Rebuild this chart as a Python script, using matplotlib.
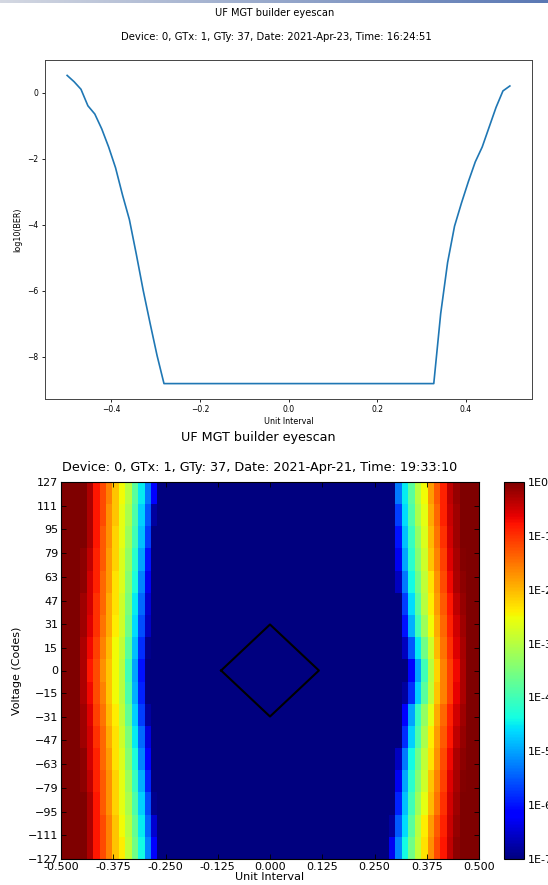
import numpy as np
import matplotlib
matplotlib.use("Agg")
import matplotlib.pyplot as plt
from matplotlib.colors import LogNorm, LinearSegmentedColormap

# ---- top chart: bathtub curve (log10 BER vs unit interval)
ui_points = [-0.5, -0.484375, -0.46875, -0.453125, -0.4375, -0.421875, -0.40625,
             -0.390625, -0.375, -0.359375, -0.34375, -0.328125, -0.3125, -0.296875,
             -0.28125, 0.328125, 0.34375, 0.359375, 0.375, 0.390625, 0.40625,
             0.421875, 0.4375, 0.453125, 0.46875, 0.484375, 0.5]
log_ber = [0.52, 0.33, 0.10, -0.40, -0.65, -1.10, -1.65,
           -2.28, -3.10, -3.85, -4.90, -6.00, -7.00, -7.97,
           -8.82, -8.82, -6.70, -5.15, -4.05, -3.35, -2.70,
           -2.10, -1.65, -1.05, -0.45, 0.05, 0.20]

# ---- bottom chart: 2D eye scan, log10 BER per voltage row
voltage_rows = [127, 111, 95, 79, 63, 47, 31, 15, 0, -15, -31, -47, -63, -79, -95, -111, -127]
n_cols = 65
# columns 3..15 (left edge of the eye)
eye_left = [
    [0.0, -0.3, -0.8, -1.2, -1.6, -2.1, -2.5, -3.0, -3.8, -4.5, -5.3, -6.1, -7.0],
    [0.0, -0.3, -0.8, -1.2, -1.7, -2.1, -2.6, -3.1, -3.9, -4.7, -5.5, -6.8, -7.0],
    [0.0, -0.3, -0.8, -1.3, -1.7, -2.2, -2.6, -3.2, -4.0, -4.8, -5.7, -7.0, -7.0],
    [-0.1, -0.4, -0.9, -1.3, -1.8, -2.2, -2.7, -3.3, -4.2, -5.0, -6.0, -7.0, -7.0],
    [-0.1, -0.5, -0.9, -1.4, -1.8, -2.3, -2.7, -3.4, -4.3, -5.2, -6.3, -7.0, -7.0],
    [-0.2, -0.5, -1.0, -1.4, -1.9, -2.3, -2.8, -3.5, -4.5, -5.4, -6.5, -7.0, -7.0],
    [-0.2, -0.6, -1.0, -1.5, -1.9, -2.4, -2.8, -3.6, -4.6, -5.6, -6.6, -7.0, -7.0],
    [-0.3, -0.7, -1.1, -1.6, -2.0, -2.5, -2.9, -3.8, -4.8, -5.8, -6.9, -7.0, -7.0],
    [-0.3, -0.8, -1.2, -1.7, -2.1, -2.5, -3.0, -4.0, -5.0, -6.0, -7.0, -7.0, -7.0],
    [-0.3, -0.7, -1.2, -1.6, -2.1, -2.5, -3.0, -3.9, -4.9, -5.9, -7.0, -7.0, -7.0],
    [-0.2, -0.6, -1.1, -1.5, -2.0, -2.4, -2.9, -3.7, -4.7, -5.7, -6.8, -7.0, -7.0],
    [-0.2, -0.5, -1.0, -1.4, -1.9, -2.3, -2.8, -3.5, -4.5, -5.4, -6.4, -7.0, -7.0],
    [-0.1, -0.5, -0.9, -1.4, -1.8, -2.3, -2.7, -3.4, -4.3, -5.2, -6.2, -7.0, -7.0],
    [-0.1, -0.4, -0.9, -1.3, -1.7, -2.2, -2.6, -3.2, -4.1, -4.9, -5.9, -7.0, -7.0],
    [0.0, -0.3, -0.8, -1.3, -1.7, -2.2, -2.6, -3.1, -3.9, -4.7, -5.6, -6.9, -7.0],
    [0.0, -0.3, -0.8, -1.2, -1.6, -2.1, -2.5, -3.0, -3.7, -4.5, -5.4, -6.5, -7.0],
    [0.0, -0.3, -0.8, -1.2, -1.6, -2.1, -2.4, -2.9, -3.6, -4.4, -5.2, -6.2, -7.0],
]
# columns 50..64 (right edge of the eye)
eye_right = [
    [-7.0, -7.0, -5.3, -4.5, -3.8, -3.0, -2.5, -1.8, -1.3, -0.9, -0.4, -0.15, 0.0, 0.0, 0.0],
    [-7.0, -7.0, -5.7, -4.6, -3.9, -3.1, -2.6, -1.9, -1.4, -0.9, -0.45, -0.2, 0.0, 0.0, 0.0],
    [-7.0, -7.0, -6.0, -4.8, -4.1, -3.3, -2.7, -2.0, -1.5, -1.0, -0.5, -0.2, 0.0, 0.0, 0.0],
    [-7.0, -7.0, -6.3, -5.0, -4.2, -3.4, -2.8, -2.1, -1.6, -1.1, -0.6, -0.25, -0.05, 0.0, 0.0],
    [-7.0, -7.0, -6.6, -5.3, -4.4, -3.6, -2.9, -2.3, -1.7, -1.2, -0.7, -0.3, -0.1, 0.0, 0.0],
    [-7.0, -7.0, -7.0, -5.7, -4.6, -3.8, -3.0, -2.4, -1.8, -1.3, -0.8, -0.4, -0.15, 0.0, 0.0],
    [-7.0, -7.0, -7.0, -6.0, -4.9, -4.0, -3.2, -2.5, -1.9, -1.4, -0.9, -0.5, -0.2, 0.0, 0.0],
    [-7.0, -7.0, -7.0, -6.6, -5.5, -4.5, -3.6, -2.8, -2.0, -1.5, -1.0, -0.6, -0.25, 0.0, 0.0],
    [-7.0, -7.0, -7.0, -7.0, -6.2, -5.0, -4.0, -3.0, -2.2, -1.6, -1.1, -0.7, -0.3, 0.0, 0.0],
    [-7.0, -7.0, -7.0, -6.8, -5.8, -4.7, -3.8, -2.9, -2.1, -1.6, -1.1, -0.65, -0.3, 0.0, 0.0],
    [-7.0, -7.0, -7.0, -6.2, -5.0, -4.1, -3.3, -2.6, -1.9, -1.4, -0.9, -0.5, -0.2, 0.0, 0.0],
    [-7.0, -7.0, -7.0, -5.8, -4.7, -3.9, -3.1, -2.4, -1.8, -1.3, -0.8, -0.4, -0.15, 0.0, 0.0],
    [-7.0, -7.0, -6.6, -5.3, -4.4, -3.6, -2.9, -2.3, -1.7, -1.2, -0.7, -0.3, -0.1, 0.0, 0.0],
    [-7.0, -7.0, -6.3, -5.0, -4.2, -3.4, -2.8, -2.1, -1.6, -1.1, -0.6, -0.25, -0.05, 0.0, 0.0],
    [-7.0, -7.0, -5.9, -4.8, -4.0, -3.2, -2.6, -2.0, -1.5, -1.0, -0.5, -0.2, 0.0, 0.0, 0.0],
    [-7.0, -6.8, -5.5, -4.6, -3.8, -3.0, -2.4, -1.8, -1.3, -0.9, -0.45, -0.15, 0.0, 0.0, 0.0],
    [-7.0, -6.3, -5.2, -4.4, -3.6, -2.9, -2.3, -1.7, -1.2, -0.8, -0.4, -0.1, 0.0, 0.0, 0.0],
]
diamond_ui = [-0.117, 0.0, 0.117, 0.0, -0.117]
diamond_v = [0, 31, 0, -31, 0]

x_ticks_bottom = [-0.5, -0.375, -0.25, -0.125, 0.0, 0.125, 0.25, 0.375, 0.5]
y_ticks_bottom = [127, 111, 95, 79, 63, 47, 31, 15, 0, -15, -31, -47, -63, -79, -95, -111, -127]
cbar_ticks = [1e0, 1e-1, 1e-2, 1e-3, 1e-4, 1e-5, 1e-6, 1e-7]
cbar_labels = ['1E0', '1E-1', '1E-2', '1E-3', '1E-4', '1E-5', '1E-6', '1E-7']

W, H = 548, 885
fig = plt.figure(figsize=(W / 100, H / 100), dpi=100)

def box(l, t, r, b):
    # pixel box (from top-left) -> figure fraction rect
    return [l / W, 1 - b / H, (r - l) / W, (b - t) / H]

# thin window-title gradient strip at the very top
strip = fig.add_axes(box(0, 0, W, 3))
strip.imshow(np.linspace(0, 1, 256)[None, :], aspect='auto',
             cmap=LinearSegmentedColormap.from_list('s', ['#d4d8e2', '#5a78b4']))
strip.axis('off')

# ---------------- top plot
ax1 = fig.add_axes(box(45, 60, 532, 399))
ax1.plot(ui_points, log_ber, color='#1f77b4', lw=1.2)
ax1.set_xticks([-0.4, -0.2, 0.0, 0.2, 0.4])
ax1.set_yticks([0, -2, -4, -6, -8])
ax1.tick_params(labelsize=5.5, length=2.5, width=0.6, pad=2)
for s in ax1.spines.values():
    s.set_linewidth(0.7)
    s.set_color('#444444')
ax1.set_xlabel('Unit Interval', fontsize=5.8, labelpad=2)
ax1.set_ylabel('log10(BER)', fontsize=5.8, labelpad=4)
fig.text(275 / W, 1 - 13 / H, 'UF MGT builder eyescan', ha='center', va='center', fontsize=7.1)
fig.text(276 / W, 1 - 37 / H, 'Device: 0, GTx: 1, GTy: 37, Date: 2021-Apr-23, Time: 16:24:51',
         ha='center', va='center', fontsize=7.25)

# ---------------- bottom plot (eye diagram)
grid = np.full((len(voltage_rows), n_cols), -7.0)
for i in range(len(voltage_rows)):
    grid[i, 0:3] = 0.0
    grid[i, 3:16] = eye_left[i]
    grid[i, 50:65] = eye_right[i]

ax2 = fig.add_axes(box(61, 482, 479, 859))
im = ax2.imshow(10 ** grid, aspect='auto', cmap='jet', norm=LogNorm(1e-7, 1e0),
                extent=[-0.5, 0.5, -127, 127], origin='upper', interpolation='nearest')
ax2.plot(diamond_ui, diamond_v, color='black', lw=1.5)
ax2.set_xlim(-0.5, 0.5)
ax2.set_ylim(-127, 127)
ax2.set_xticks(x_ticks_bottom)
ax2.set_xticklabels(['%.3f' % t for t in x_ticks_bottom])
ax2.set_yticks(y_ticks_bottom)
ax2.tick_params(direction='in', top=True, right=True, labelsize=8, length=3.5, width=0.6, pad=2)
ax2.set_xlabel('Unit Interval', fontsize=8, labelpad=0)
ax2.set_ylabel('Voltage (Codes)', fontsize=8, labelpad=4)
fig.text(258 / W, 1 - 438 / H, 'UF MGT builder eyescan', ha='center', va='center', fontsize=9.2)
fig.text(260 / W, 1 - 467 / H, 'Device: 0, GTx: 1, GTy: 37, Date: 2021-Apr-21, Time: 19:33:10',
         ha='center', va='center', fontsize=9.2)

cax = fig.add_axes(box(504, 482, 524, 859))
cb = fig.colorbar(im, cax=cax)
cb.set_ticks(cbar_ticks)
cb.set_ticklabels(cbar_labels)
cb.ax.minorticks_off()
cb.ax.tick_params(length=0, labelsize=8, pad=3)

fig.savefig('out.png', dpi=100)
